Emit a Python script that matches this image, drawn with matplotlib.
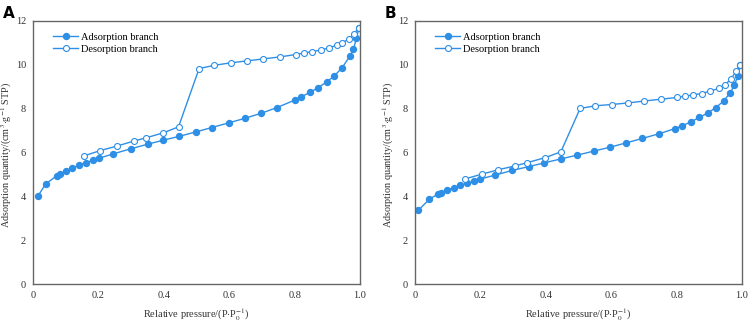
import matplotlib
matplotlib.use("Agg")
import matplotlib.pyplot as plt

plt.rcParams['font.family'] = ['Liberation Serif', 'DejaVu Serif']
plt.rcParams['mathtext.fontset'] = 'stix'

# Panel A
a_ads_x = [0.015, 0.039, 0.074, 0.082, 0.100, 0.120, 0.141, 0.161, 0.182, 0.202, 0.246, 0.299, 0.351, 0.398,
           0.448, 0.498, 0.547, 0.598, 0.648, 0.698, 0.746, 0.802, 0.820, 0.848, 0.872, 0.898, 0.921, 0.945,
           0.970, 0.980, 0.989, 0.997]
a_ads_y = [4.01, 4.57, 4.95, 5.01, 5.15, 5.29, 5.42, 5.53, 5.64, 5.74, 5.94, 6.17, 6.38, 6.56,
           6.74, 6.94, 7.14, 7.35, 7.56, 7.79, 8.05, 8.40, 8.54, 8.75, 8.96, 9.22, 9.49, 9.86,
           10.42, 10.71, 11.21, 11.70]
a_des_x = [0.157, 0.206, 0.256, 0.308, 0.346, 0.399, 0.445, 0.508, 0.555, 0.604, 0.654, 0.704, 0.754, 0.804,
           0.829, 0.854, 0.880, 0.905, 0.931, 0.945, 0.966, 0.982, 0.997]
a_des_y = [5.85, 6.09, 6.29, 6.52, 6.67, 6.90, 7.17, 9.83, 9.98, 10.09, 10.18, 10.27, 10.36, 10.47,
           10.54, 10.60, 10.68, 10.77, 10.91, 11.00, 11.18, 11.42, 11.70]

# Panel B
b_ads_x = [0.010, 0.044, 0.069, 0.078, 0.098, 0.118, 0.139, 0.159, 0.180, 0.200, 0.245, 0.297, 0.349, 0.396,
           0.447, 0.496, 0.546, 0.596, 0.646, 0.695, 0.745, 0.795, 0.818, 0.845, 0.870, 0.896, 0.920, 0.944,
           0.964, 0.977, 0.987, 0.995]
b_ads_y = [3.36, 3.87, 4.09, 4.16, 4.28, 4.39, 4.50, 4.60, 4.69, 4.79, 4.97, 5.18, 5.36, 5.53,
           5.71, 5.88, 6.06, 6.24, 6.44, 6.64, 6.85, 7.09, 7.22, 7.41, 7.60, 7.81, 8.05, 8.35,
           8.73, 9.07, 9.51, 9.98]
b_des_x = [0.154, 0.204, 0.254, 0.306, 0.344, 0.399, 0.446, 0.505, 0.551, 0.601, 0.651, 0.701, 0.751, 0.801,
           0.826, 0.851, 0.877, 0.902, 0.931, 0.947, 0.967, 0.982, 0.995]
b_des_y = [4.80, 5.01, 5.21, 5.39, 5.54, 5.77, 6.03, 8.01, 8.13, 8.19, 8.26, 8.35, 8.43, 8.51,
           8.57, 8.63, 8.69, 8.80, 8.93, 9.07, 9.37, 9.71, 10.01]

x_ticks = [0, 0.2, 0.4, 0.6, 0.8, 1.0]
x_labels = ['0', '0.2', '0.4', '0.6', '0.8', '1.0']
y_ticks = [0, 2, 4, 6, 8, 10, 12]

color = '#2e8fe6'
spine_color = '#666666'

fig = plt.figure(figsize=(7.49, 3.22), dpi=100)
W, H = 749, 322
panels = [
    (33, 'A', a_ads_x, a_ads_y, a_des_x, a_des_y),
    (415, 'B', b_ads_x, b_ads_y, b_des_x, b_des_y),
]
for left, lab, ax_x, ax_y, dx, dy in panels:
    ax = fig.add_axes([left / W, (322 - 284) / H, 327 / W, (284 - 21) / H])
    ax.plot(ax_x, ax_y, '-o', color=color, lw=1.0, ms=4.3, mfc=color, mec=color, label='Adsorption branch')
    ax.plot(dx, dy, '-o', color=color, lw=1.0, ms=4.3, mfc='white', mec=color, mew=0.8, label='Desorption branch')
    ax.set_xlim(0, 1.0)
    ax.set_ylim(0, 12)
    ax.set_xticks(x_ticks)
    ax.set_xticklabels(x_labels)
    ax.set_yticks(y_ticks)
    ax.tick_params(length=0, labelsize=7.5, colors='#333333')
    ax.tick_params(axis='x', pad=5)
    ax.tick_params(axis='y', pad=5)
    for s in ax.spines.values():
        s.set_color(spine_color)
        s.set_linewidth(1.0)
    ax.set_xlabel(r'Relative pressure/(P$\cdot$P$_0^{-1}$)', fontsize=7.5, color='#333333', labelpad=5)
    ax.set_ylabel(r'Adsorption quantity/(cm$^3$$\cdot$g$^{-1}$ STP)', fontsize=7.3, color='#333333')
    ax.yaxis.set_label_coords(-19.0 / 327, 0.49)
    ax.legend(loc='upper left', bbox_to_anchor=(0.04, 0.985), frameon=False, fontsize=7.5,
              handlelength=2.4, handletextpad=0.3, labelspacing=0.3, borderaxespad=0.3)
    fig.text((left - 33 + 3) / W, 1 - 13 / H, lab, fontsize=11, fontweight='bold',
             family='DejaVu Sans', va='center', ha='left')

fig.savefig('out.png', dpi=100)
